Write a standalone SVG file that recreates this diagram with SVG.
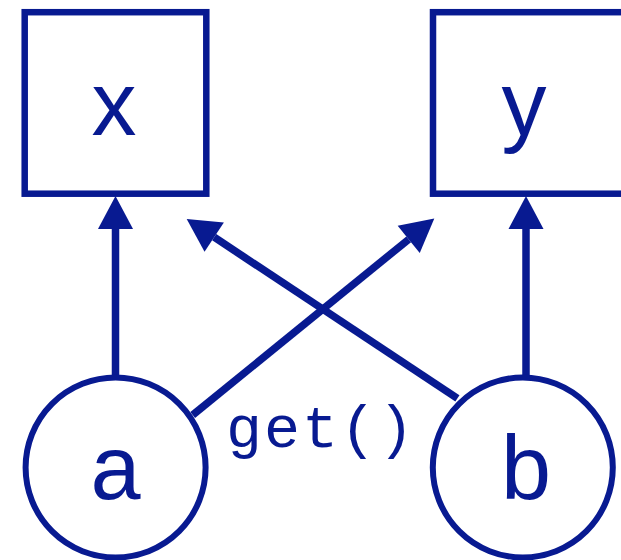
<svg xmlns="http://www.w3.org/2000/svg" width="621" height="560" viewBox="0 0 621 560">
  <style>
    .box { fill: #ffffff; stroke: #081a91; stroke-width: 6.5; }
    .node { fill: #ffffff; stroke: #081a91; stroke-width: 6; }
    .lbl { font-family: "Liberation Sans", Arial, sans-serif; font-size: 90px; fill: #081a91; text-anchor: middle; }
    .edge { stroke: #081a91; stroke-width: 7.5; fill: none; }
    .elbl { font-family: "Liberation Mono", "Courier New", monospace; font-size: 60px; fill: #081a91; letter-spacing: 2px; }
  </style>
  <defs>
    <marker id="arrow" markerUnits="userSpaceOnUse" markerWidth="34" markerHeight="36" refX="0" refY="17.5" orient="auto" overflow="visible">
      <path d="M0,0 L33,17.5 L0,35 Z" fill="#081a91"/>
    </marker>
  </defs>
  <rect width="621" height="560" fill="#ffffff"/>
  <g id="connectors">
    <line class="edge" x1="115.5" y1="377" x2="115.5" y2="229" marker-end="url(#arrow)"/>
    <line class="edge" x1="526" y1="377" x2="526" y2="229" marker-end="url(#arrow)"/>
    <line class="edge" x1="192.7" y1="415" x2="408.7" y2="239.3" marker-end="url(#arrow)"/>
    <line class="edge" x1="457.4" y1="398.3" x2="214.2" y2="237.2" marker-end="url(#arrow)"/>
    <text class="elbl" x="226" y="447">get()</text>
  </g>
  <g id="node-x">
    <rect class="box" x="24.7" y="12.2" width="181.6" height="181.5"/>
    <text class="lbl" x="114" y="135">x</text>
  </g>
  <g id="node-y">
    <rect class="box" x="433" y="12.2" width="200" height="181.5"/>
    <text class="lbl" x="524" y="135">y</text>
  </g>
  <g id="node-a">
    <circle class="node" cx="115.6" cy="467.5" r="90"/>
    <text class="lbl" x="115.5" y="499">a</text>
  </g>
  <g id="node-b">
    <circle class="node" cx="522.8" cy="467.5" r="90"/>
    <text class="lbl" x="526" y="499">b</text>
  </g>
</svg>
